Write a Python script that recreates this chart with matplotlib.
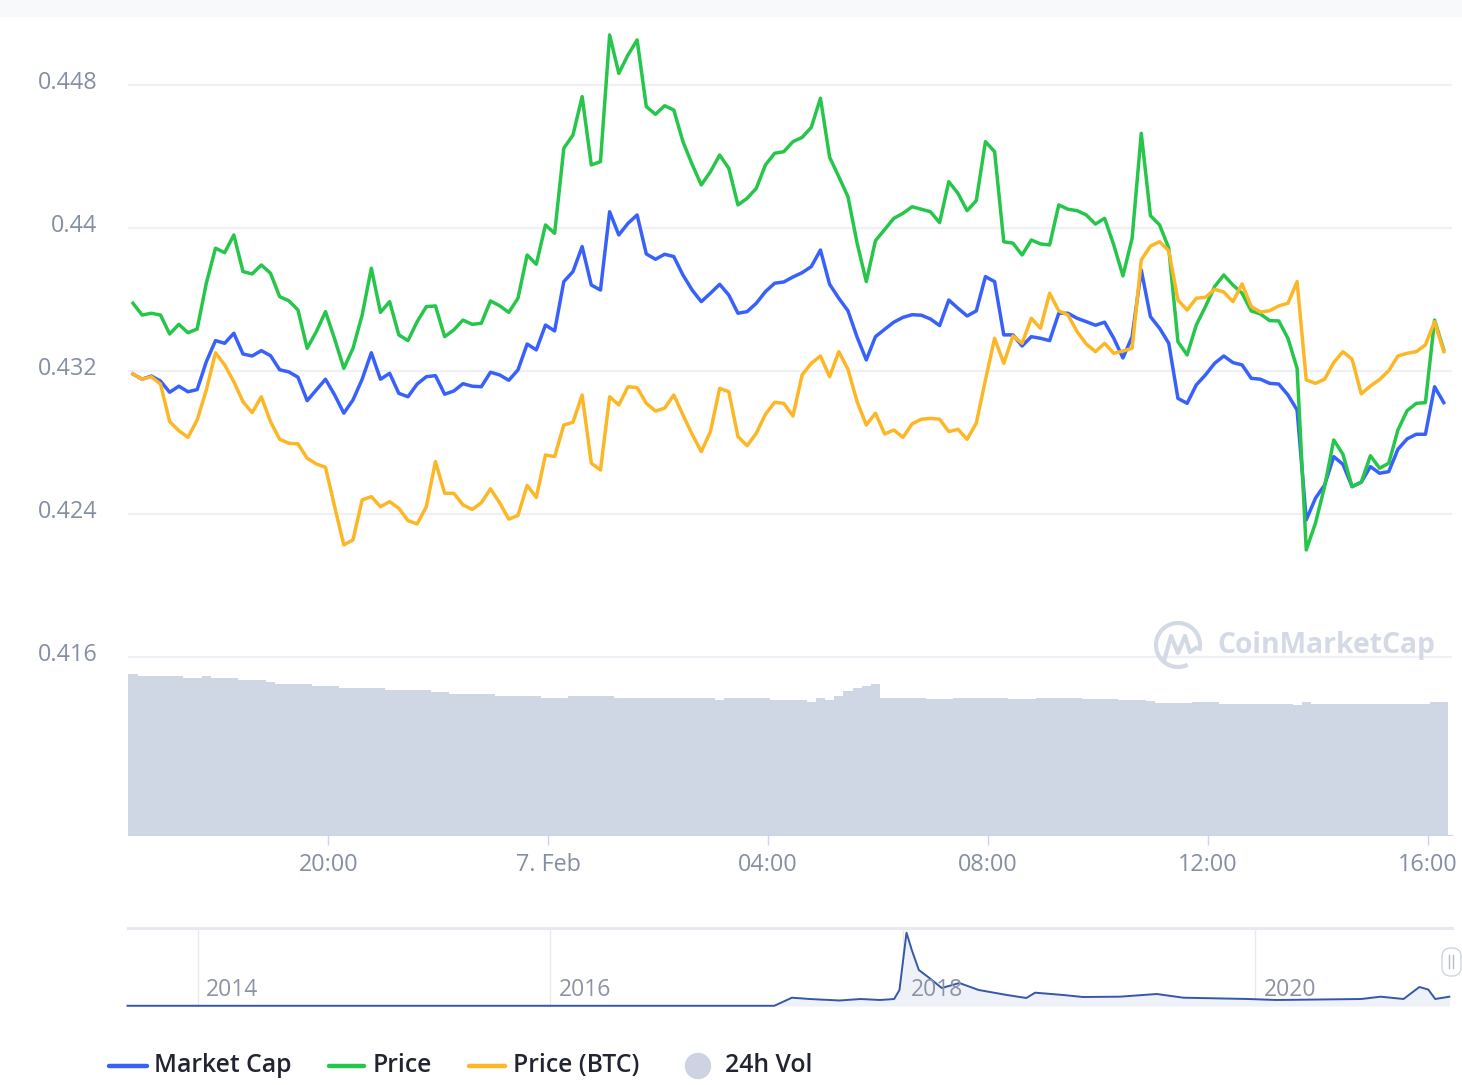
import datetime as dt
import matplotlib
matplotlib.use("Agg")
import matplotlib.pyplot as plt
import matplotlib.dates as mdates
from matplotlib.lines import Line2D
from matplotlib.patches import Arc, Ellipse, FancyBboxPatch, Rectangle
from matplotlib.transforms import ScaledTranslation, blended_transform_factory

plt.rcParams['font.family'] = ['Open Sans', 'DejaVu Sans']

# ---- data (10 minute samples, 6 Feb 16:27 -> 7 Feb 16:17) ----
start = dt.datetime(2021, 2, 6, 16, 27)
times = [start + dt.timedelta(minutes=10 * i) for i in range(144)]

market_cap = [
    0.43183, 0.43154, 0.43172, 0.43144, 0.43081, 0.43115, 0.43084, 0.43096, 0.43252, 0.43370, 0.43355, 0.43411,
    0.43295, 0.43284, 0.43314, 0.43286, 0.43207, 0.43195, 0.43165, 0.43034, 0.43094, 0.43154, 0.43066, 0.42964,
    0.43038, 0.43154, 0.43302, 0.43154, 0.43187, 0.43075, 0.43056, 0.43127, 0.43168, 0.43174, 0.43070, 0.43088,
    0.43129, 0.43115, 0.43112, 0.43193, 0.43178, 0.43148, 0.43206, 0.43351, 0.43318, 0.43457, 0.43424, 0.43700,
    0.43756, 0.43896, 0.43681, 0.43653, 0.44091, 0.43961, 0.44026, 0.44073, 0.43855, 0.43825, 0.43853, 0.43840,
    0.43737, 0.43653, 0.43588, 0.43635, 0.43685, 0.43625, 0.43523, 0.43532, 0.43579, 0.43644, 0.43691, 0.43698,
    0.43726, 0.43750, 0.43784, 0.43877, 0.43685, 0.43607, 0.43537, 0.43389, 0.43262, 0.43392, 0.43433, 0.43473,
    0.43500, 0.43515, 0.43512, 0.43491, 0.43454, 0.43597, 0.43551, 0.43508, 0.43536, 0.43728, 0.43700, 0.43402,
    0.43402, 0.43340, 0.43392, 0.43383, 0.43370, 0.43523, 0.43523, 0.43495, 0.43476, 0.43456, 0.43473, 0.43383,
    0.43273, 0.43392, 0.43765, 0.43504, 0.43439, 0.43355, 0.43047, 0.43019, 0.43122, 0.43178, 0.43243, 0.43284,
    0.43247, 0.43234, 0.43159, 0.43154, 0.43131, 0.43127, 0.43066, 0.42982, 0.42367, 0.42488, 0.42562, 0.42721,
    0.42678, 0.42553, 0.42578, 0.42665, 0.42628, 0.42637, 0.42762, 0.42820, 0.42846, 0.42846, 0.43112, 0.43023,
]

price = [
    0.43579, 0.43513, 0.43523, 0.43513, 0.43407, 0.43461, 0.43414, 0.43435, 0.43691, 0.43887, 0.43862, 0.43961,
    0.43756, 0.43743, 0.43793, 0.43747, 0.43616, 0.43593, 0.43541, 0.43327, 0.43420, 0.43532, 0.43379, 0.43215,
    0.43327, 0.43513, 0.43775, 0.43528, 0.43588, 0.43402, 0.43370, 0.43476, 0.43560, 0.43564, 0.43392, 0.43430,
    0.43485, 0.43461, 0.43467, 0.43592, 0.43565, 0.43528, 0.43607, 0.43849, 0.43797, 0.44017, 0.43970, 0.44446,
    0.44520, 0.44735, 0.44353, 0.44371, 0.45080, 0.44865, 0.44968, 0.45052, 0.44679, 0.44636, 0.44684, 0.44660,
    0.44483, 0.44356, 0.44241, 0.44315, 0.44408, 0.44334, 0.44129, 0.44166, 0.44222, 0.44353, 0.44418, 0.44427,
    0.44483, 0.44507, 0.44563, 0.44726, 0.44396, 0.44287, 0.44175, 0.43915, 0.43700, 0.43929, 0.43991, 0.44054,
    0.44082, 0.44119, 0.44105, 0.44091, 0.44030, 0.44259, 0.44194, 0.44097, 0.44153, 0.44483, 0.44427, 0.43923,
    0.43915, 0.43849, 0.43933, 0.43911, 0.43905, 0.44129, 0.44105, 0.44097, 0.44073, 0.44022, 0.44054, 0.43905,
    0.43732, 0.43942, 0.44530, 0.44069, 0.44017, 0.43887, 0.43364, 0.43290, 0.43457, 0.43560, 0.43672, 0.43737,
    0.43681, 0.43635, 0.43536, 0.43519, 0.43482, 0.43480, 0.43383, 0.43215, 0.42199, 0.42348, 0.42553, 0.42814,
    0.42734, 0.42553, 0.42578, 0.42726, 0.42656, 0.42684, 0.42870, 0.42978, 0.43019, 0.43023, 0.43485, 0.43318,
]

price_btc = [
    0.43183, 0.43154, 0.43168, 0.43127, 0.42917, 0.42866, 0.42829, 0.42926, 0.43094, 0.43302, 0.43234, 0.43140,
    0.43028, 0.42967, 0.43056, 0.42917, 0.42818, 0.42796, 0.42792, 0.42712, 0.42680, 0.42661, 0.42441, 0.42227,
    0.42255, 0.42479, 0.42497, 0.42441, 0.42469, 0.42432, 0.42363, 0.42344, 0.42441, 0.42693, 0.42516, 0.42516,
    0.42451, 0.42425, 0.42463, 0.42541, 0.42463, 0.42371, 0.42392, 0.42560, 0.42493, 0.42730, 0.42721, 0.42898,
    0.42913, 0.43066, 0.42684, 0.42646, 0.43056, 0.43010, 0.43112, 0.43107, 0.43019, 0.42976, 0.42992, 0.43066,
    0.42954, 0.42846, 0.42749, 0.42861, 0.43103, 0.43084, 0.42833, 0.42782, 0.42852, 0.42958, 0.43025, 0.43019,
    0.42948, 0.43178, 0.43243, 0.43284, 0.43168, 0.43308, 0.43210, 0.43028, 0.42898, 0.42964, 0.42848, 0.42870,
    0.42829, 0.42904, 0.42930, 0.42935, 0.42930, 0.42861, 0.42874, 0.42818, 0.42908, 0.43150, 0.43383, 0.43243,
    0.43396, 0.43355, 0.43495, 0.43439, 0.43635, 0.43537, 0.43513, 0.43420, 0.43351, 0.43308, 0.43355, 0.43299,
    0.43312, 0.43327, 0.43821, 0.43899, 0.43923, 0.43873, 0.43597, 0.43541, 0.43607, 0.43612, 0.43657, 0.43642,
    0.43588, 0.43687, 0.43560, 0.43530, 0.43537, 0.43564, 0.43579, 0.43700, 0.43150, 0.43131, 0.43154, 0.43247,
    0.43308, 0.43266, 0.43072, 0.43116, 0.43152, 0.43202, 0.43284, 0.43299, 0.43308, 0.43346, 0.43476, 0.43308,
]

# 24h volume, billions USD
volume = [
    2.90, 2.86, 2.86, 2.86, 2.86, 2.86, 2.83, 2.83, 2.86, 2.83, 2.83, 2.83,
    2.79, 2.79, 2.79, 2.75, 2.72, 2.72, 2.72, 2.72, 2.68, 2.68, 2.68, 2.65,
    2.65, 2.65, 2.65, 2.65, 2.61, 2.61, 2.61, 2.61, 2.61, 2.57, 2.57, 2.54,
    2.54, 2.54, 2.54, 2.54, 2.50, 2.50, 2.50, 2.50, 2.50, 2.47, 2.47, 2.47,
    2.50, 2.50, 2.50, 2.50, 2.50, 2.47, 2.47, 2.47, 2.47, 2.47, 2.47, 2.47,
    2.47, 2.47, 2.47, 2.47, 2.43, 2.47, 2.47, 2.47, 2.47, 2.47, 2.43, 2.43,
    2.43, 2.43, 2.39, 2.47, 2.43, 2.50, 2.60, 2.65, 2.68, 2.72, 2.47, 2.47,
    2.47, 2.47, 2.47, 2.45, 2.45, 2.45, 2.47, 2.47, 2.47, 2.47, 2.47, 2.47,
    2.45, 2.45, 2.45, 2.47, 2.47, 2.47, 2.47, 2.47, 2.45, 2.45, 2.45, 2.45,
    2.43, 2.43, 2.43, 2.41, 2.38, 2.38, 2.38, 2.38, 2.40, 2.40, 2.40, 2.36,
    2.36, 2.36, 2.36, 2.36, 2.36, 2.36, 2.36, 2.34, 2.39, 2.36, 2.36, 2.36,
    2.36, 2.36, 2.36, 2.36, 2.36, 2.36, 2.36, 2.36, 2.36, 2.36, 2.40, 2.40,
]

y_ticks = [0.416, 0.424, 0.432, 0.44, 0.448]
y_tick_labels = ["0.416", "0.424", "0.432", "0.44", "0.448"]
x_ticks = [dt.datetime(2021, 2, 6, 20), dt.datetime(2021, 2, 7, 0), dt.datetime(2021, 2, 7, 4),
           dt.datetime(2021, 2, 7, 8), dt.datetime(2021, 2, 7, 12), dt.datetime(2021, 2, 7, 16)]
x_tick_labels = ["20:00", "7. Feb", "04:00", "08:00", "12:00", "16:00"]

# navigator: market cap history (decimal year, billions)
nav_years = [2013.60, 2017.27, 2017.37, 2017.47, 2017.64, 2017.76, 2017.87, 2017.95, 2017.98,
             2018.02, 2018.05, 2018.09, 2018.15, 2018.22, 2018.32, 2018.43, 2018.59, 2018.70,
             2018.75, 2018.91, 2019.02, 2019.23, 2019.44, 2019.59, 2019.96, 2020.12, 2020.60,
             2020.71, 2020.84, 2020.93, 2020.98, 2021.02, 2021.10]
nav_cap = [0.05, 0.05, 1.83, 1.54, 1.21, 1.54, 1.32, 1.54, 3.52,
           16.13, 12.32, 7.92, 6.16, 3.96, 5.06, 3.52, 2.42, 1.76,
           2.93, 2.42, 1.98, 2.05, 2.64, 1.83, 1.54, 1.32, 1.54,
           2.05, 1.54, 4.18, 3.63, 1.54, 2.05]
nav_year_ticks = [2014, 2016, 2018, 2020]

# ---- layout helpers (pixel boxes of the 1462x1085 canvas) ----
W, H = 1462, 1085


def rect(x0, y0, x1, y1):
    return [x0 / W, 1 - y1 / H, (x1 - x0) / W, (y1 - y0) / H]


grey_text = "#858fa3"
grid_col = "#edf0f5"

fig = plt.figure(figsize=(W / 100, H / 100), dpi=100)
fig.add_artist(Rectangle((0, 1 - 16 / H), 1, 16 / H, transform=fig.transFigure,
                         color="#f8f9fb", zorder=0))

# volume behind the lines
ax_vol = fig.add_axes(rect(128, 20, 1452, 835))
ax_vol.bar(times, volume, width=10 / 1440, color="#cfd6e4", linewidth=0)
ax_vol.set_ylim(0, 815 * 0.018)
ax_vol.axis("off")

ax = fig.add_axes(rect(128, 20, 1452, 835), sharex=ax_vol)
ax.patch.set_alpha(0)
ax.plot(times, market_cap, color="#3861fb", lw=2.5, solid_joinstyle="round")
ax.plot(times, price, color="#26c64b", lw=2.5, solid_joinstyle="round")
ax.plot(times, price_btc, color="#fdb726", lw=2.5, solid_joinstyle="round")

ax.set_xlim(dt.datetime(2021, 2, 6, 16, 21, 33), dt.datetime(2021, 2, 7, 16, 26))
ax.set_ylim(0.406042, 0.451636)
ax.set_yticks(y_ticks)
ax.set_yticklabels(y_tick_labels)
ax.set_xticks(x_ticks)
ax.set_xticklabels(x_tick_labels)
ax.grid(axis="y", color=grid_col, lw=1.6)
ax.set_axisbelow(True)
for s in ["top", "right", "left"]:
    ax.spines[s].set_visible(False)
ax.spines["bottom"].set_color("#ccd6eb")
ax.tick_params(axis="y", length=0, pad=22, labelsize=16.8, labelcolor=grey_text)
ax.tick_params(axis="x", length=7, width=1, color="#ccd6eb", pad=6,
               labelsize=16.8, labelcolor=grey_text)
for lab in ax.get_yticklabels():
    lab.set_transform(lab.get_transform() + ScaledTranslation(0, 0.05, fig.dpi_scale_trans))

# watermark
wm = "#d3d9e5"
fig.add_artist(Arc((1178 / W, 1 - 645 / H), 44 / W, 44 / H, theta1=-20, theta2=290,
                   transform=fig.transFigure, color=wm, lw=3))
fig.add_artist(Line2D([1164 / W, 1171 / W, 1178 / W, 1185 / W, 1190 / W, 1196 / W],
                      [1 - 661 / H, 1 - 636 / H, 1 - 653 / H, 1 - 636 / H, 1 - 652 / H, 1 - 648 / H],
                      transform=fig.transFigure, color=wm, lw=3, solid_joinstyle="round"))
fig.text(1217 / W, 1 - 646 / H, "CoinMarketCap", fontsize=20.3, fontweight="bold",
         color=wm, va="center", ha="left")

# navigator
ax_nav = fig.add_axes(rect(128, 928, 1452, 1006))
ax_nav.fill_between(nav_years, nav_cap, color="#eef1f8", lw=0)
ax_nav.plot(nav_years, nav_cap, color="#3457a8", lw=1.4, clip_on=False)
ax_nav.set_xlim(2013.603, 2021.115)
ax_nav.set_ylim(0, 17.16)
ax_nav.set_xticks(nav_year_ticks)
ax_nav.set_yticks([])
ax_nav.grid(axis="x", color="#e6e9ef", lw=1)
ax_nav.set_axisbelow(True)
ax_nav.tick_params(axis="x", length=0, labelbottom=False)
for s in ["bottom", "right", "left"]:
    ax_nav.spines[s].set_visible(False)
ax_nav.spines["top"].set_color("#e6e9ef")
ax_nav.spines["top"].set_linewidth(2.2)
trans_nav = blended_transform_factory(ax_nav.transData, ax_nav.transAxes)
for yr in nav_year_ticks:
    ax_nav.text(yr + 0.045, 0.2, str(yr), transform=trans_nav, fontsize=16.5,
                color="#8b93a5", va="center", ha="left")

handle = FancyBboxPatch((1442 / W, 1 - 976 / H), 19 / W, 28 / H,
                        boxstyle="round,pad=0,rounding_size=0.006", transform=fig.transFigure,
                        facecolor="white", edgecolor="#d0d4dc", lw=1, mutation_aspect=W / H)
fig.add_artist(handle)
for hx in (1449, 1453):
    fig.add_artist(Line2D([hx / W, hx / W], [1 - 955 / H, 1 - 968 / H],
                          transform=fig.transFigure, color="#b6bcc8", lw=1))

# legend
leg_y = 1 - 1066 / H
leg_items = [("Market Cap", "#3861fb", 109, 147, 154),
             ("Price", "#26c64b", 329, 364, 373),
             ("Price (BTC)", "#fdb726", 469, 505, 513)]
for label, col, x0, x1, xt in leg_items:
    fig.add_artist(Line2D([x0 / W, x1 / W], [leg_y, leg_y], transform=fig.transFigure,
                          color=col, lw=3.2, solid_capstyle="round"))
    fig.text(xt / W, leg_y, label, fontsize=17.8, fontweight="semibold", color="#222531",
             va="center", ha="left")
fig.add_artist(Ellipse((698 / W, leg_y), 25 / W, 25 / H, transform=fig.transFigure,
                       color="#cdd3e2"))
fig.text(725 / W, leg_y, "24h Vol", fontsize=17.8, fontweight="semibold", color="#222531",
         va="center", ha="left")

fig.savefig("out.png", dpi=100, facecolor="white")
